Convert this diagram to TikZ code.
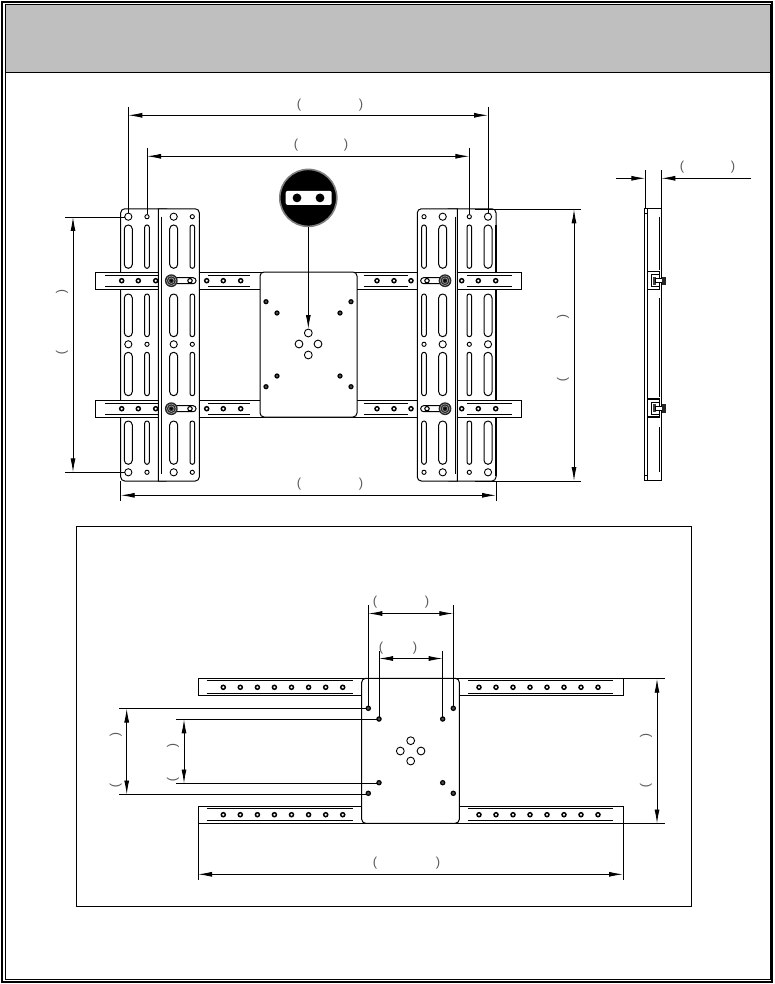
\documentclass[tikz,border=0pt]{standalone}
\usepackage{fontspec}
\setmainfont{Liberation Sans}
\usetikzlibrary{arrows.meta}
\tikzset{
  thin line/.style={line width=0.9pt,black},
  part/.style={line width=1pt,draw=black,fill=white},
  slotline/.style={line width=1pt,draw=black,fill=white},
  ring/.style={line width=0.9pt,draw=black,fill=white},
  barhole/.style={line width=1.5pt,draw=black,fill=white},
  platehole/.style={line width=1.2pt,draw=black,fill=black!70},
  dimline/.style={line width=0.9pt,black,{Latex[length=14pt,width=5pt]}-{Latex[length=14pt,width=5pt]}},
  leader/.style={line width=0.9pt,black,-{Latex[length=14pt,width=5pt]}},
  extline/.style={line width=0.9pt,black},
  paren/.style={font=\fontsize{13}{13}\selectfont,text=black!65,inner sep=0pt},
  parenv/.style={paren,rotate=-90},
}
% slot column of a vertical panel: #1 x, #2 width
\newcommand{\slotcol}[2]{%
  \foreach \ya/\yb in {225/268.3,294/336.7,352.3/395.7,421/464.3}{%
    \pgfmathsetlengthmacro{\sr}{#2/2-0.05}%
    \draw[slotline,rounded corners=\sr] ({#1-#2/2},\ya) rectangle ({#1+#2/2},\yb);}}
\newcommand{\holecol}[2]{%
  \foreach \yy in {216.7,344.3,472.3}{\draw[ring] (#1,\yy) circle[radius=#2];}}
% knob with slot: #1 knob x, #2 far slot end x, #3 hole x, #4 y
\newcommand{\knob}[4]{%
  \draw[slotline,rounded corners=2.9pt] (#1,#4-3) rectangle (#2,#4+3);
  \draw[line width=1.1pt,draw=black,fill=white] (#3,#4) circle[radius=2.2];
  \fill[black!85] (#1,#4) circle[radius=6.4];
  \draw[white!70!black,line width=0.5pt] (#1,#4) circle[radius=4.8];
  \draw[white!70!black,line width=0.5pt] (#1,#4) circle[radius=2.8];
  \fill[black] (#1,#4) circle[radius=1.2];}
\begin{document}
\begin{tikzpicture}[x=1pt,y=-1pt]
\useasboundingbox (0,0) rectangle (774,984);
\fill[white] (0,0) rectangle (774,984);
% frame and header
\draw[line width=2pt] (2,2.2) rectangle (772,982);
\fill[black!25] (5,4.7) rectangle (770,72.5);
\draw[line width=1pt] (5,4.7) rectangle (770,979.5);
\draw[line width=1pt] (5,72.5) -- (770,72.5);

% ===== main view: outer sub-panels (behind bars)
\draw[part,rounded corners=4pt] (120.7,208.8) rectangle (170,481);
\slotcol{128.3}{8}\slotcol{147}{4.6}
\holecol{128.3}{3.6}\holecol{147}{2.1}
\draw[part,rounded corners=4pt] (445,208.8) rectangle (496,481);
\draw[line width=1.5pt] (496,225) -- (496,476);
\slotcol{469.3}{4.6}\slotcol{488}{8}
\holecol{469.3}{2.1}\holecol{488}{3.6}

% bars
\foreach \ya/\yb/\yi/\yj/\yh in {272/289.3/275.3/286.7/280.7, 400.3/417.3/403.6/414.7/408.7}{
  \draw[part] (95.3,\ya) rectangle (521.7,\yb);
  \draw[thin line] (105,\yi) -- (158,\yi) (105,\yj) -- (158,\yj);
  \draw[thin line] (208,\yi) -- (250,\yi) (208,\yj) -- (250,\yj);
  \draw[thin line] (364,\yi) -- (408,\yi) (364,\yj) -- (408,\yj);
  \draw[thin line] (466.7,\yi) -- (511.7,\yi) (466.7,\yj) -- (511.7,\yj);
  \foreach \xx in {121.7,138.3,155.7,206.7,223.3,240.7,377,394,411,461.7,478.3,495.7}
    \draw[barhole] (\xx,\yh) circle[radius=2];
}

% inner sub-panels (over bars)
\draw[part] (158.3,208.8) [rounded corners=4pt] -- (199.3,208.8) -- (199.3,481) [sharp corners] -- (158.3,481) -- cycle;
\draw[thin line] (161.7,216.7) -- (161.7,474);
\slotcol{173.7}{8}\slotcol{192.3}{4.6}
\holecol{173.7}{3.6}\holecol{192.3}{2.1}
\draw[part] (457.3,208.8) -- (421.3,208.8) [rounded corners=4pt] -- (417.3,208.8) -- (417.3,481) [sharp corners] -- (457.3,481) -- cycle;
\draw[thin line] (455.3,216.7) -- (455.3,474);
\slotcol{424}{4.6}\slotcol{442.7}{8}
\holecol{424}{2.1}\holecol{442.7}{3.6}
\knob{171.3}{196}{190}{280.7}
\knob{171.3}{196}{190}{408.7}
\knob{445}{420.7}{427}{280.7}
\knob{445}{420.7}{427}{408.7}

% centre plate
\draw[part,rounded corners=4pt] (260,272) rectangle (357,417);
\foreach \xx/\yy in {266/301.7,277/313,340/313,351/301.7,266/386.7,277/376,340/376,351/386.7}
  \draw[platehole] (\xx,\yy) circle[radius=2];
\foreach \xx/\yy in {308.3/333,299/344,318/344,308.3/355}
  \draw[ring] (\xx,\yy) circle[radius=3.9];

% icon
\node[circle,minimum size=57pt,inner sep=0pt,fill=black,draw=black!50,line width=1.6pt] (icon) at (308.3,197.9) {};
\fill[white,rounded corners=2pt] (285.7,190.9) rectangle (331.7,204.9);
\fill[black] (297,197.9) circle[radius=4.4] (320,197.9) circle[radius=4.4];
\coordinate (iconhole) at (308.3,329);
\draw[leader] (icon.south) -- (iconhole);

% dimensions, main view
\coordinate (ta) at (128.3,115.3); \coordinate (tb) at (488,115.3);
\coordinate (ua) at (147,156.3);   \coordinate (ub) at (469.3,156.3);
\coordinate (ba) at (120.7,495.3); \coordinate (bb) at (496,495.3);
\coordinate (la) at (73,217);  \coordinate (lb) at (73,472.3);
\coordinate (ra) at (574,209.3);   \coordinate (rb) at (574,481);
\draw[extline] (128.3,107) -- (128.3,213) (488,107) -- (488,213);
\draw[extline] (147,148) -- (147,214.5) (469.3,148) -- (469.3,214.5);
\draw[extline] (120.7,481) -- (120.7,501) (496,481) -- (496,501);
\draw[extline] (65,217) -- (124.7,217) (65,472.3) -- (124.7,472.3);
\draw[extline] (475,209.3) -- (581,209.3) (475,481) -- (581,481);
\draw[dimline] (ta) -- (tb);
\draw[dimline] (ua) -- (ub);
\draw[dimline] (ba) -- (bb);
\draw[dimline] (la) -- (lb);
\draw[dimline] (ra) -- (rb);
\node[paren] (p1) at (299,105) {(}; \node[paren] (p2) at (361,105) {)};
\node[paren] (p3) at (296,145) {(}; \node[paren] (p4) at (346,145) {)};
\node[paren] (p5) at (299,484) {(}; \node[paren] (p6) at (361,484) {)};
\node[parenv] (p7) at (62,292) {(}; \node[parenv] (p8) at (62,353) {)};
\node[parenv] (p9) at (563,317) {(}; \node[parenv] (p10) at (563,380) {)};

% ===== side view
\draw[part] (644.3,208.5) rectangle (661.3,480.3);
\draw[thin line] (647.3,208.5) -- (647.3,480.3);
\draw[thin line] (644.3,213) -- (647.3,213) (644.3,475.5) -- (647.3,475.5);
\draw[thin line] (659.7,217) -- (659.7,270) (659.7,298) -- (659.7,397) (659.7,427) -- (659.7,472);
\foreach \ya/\yc in {271.7/280.7,399/408.3}{
  \draw[line width=1.2pt,fill=white] (659.7,\ya) -- (647.7,\ya) -- (647.7,\ya+18) -- (659.7,\ya+18) -- cycle;
  \draw[line width=1pt] (659.7,\yc-6) -- (651.5,\yc-6) -- (651.5,\yc+6) -- (659.7,\yc+6);
  \fill[black!75] (652.5,\yc-4) rectangle (655.5,\yc+4);
  \draw[line width=0.9pt,fill=white] (655.5,\yc-2.2) rectangle (662,\yc+2.2);
  \fill[black!85] (662,\yc-4.2) rectangle (665.7,\yc+4.2);
}
\coordinate (sa) at (645.3,178.3); \coordinate (sb) at (661.3,178.3);
\coordinate (sc) at (616,178.3);   \coordinate (sd) at (751,178.3);
\draw[extline] (645.3,170) -- (645.3,208) (661.3,170) -- (661.3,208);
\draw[leader] (sc) -- (sa);
\draw[leader] (sd) -- (sb);
\node[paren] (p11) at (682,167) {(}; \node[paren] (p12) at (733,167) {)};

% ===== lower box
\draw[line width=0.9pt] (76.6,526.8) rectangle (691.6,906.8);
\foreach \ya/\yb/\yi/\yj/\yh in {678.3/695.7/680.9/693.3/687.3, 806/823.3/808.7/820.7/814.7}{
  \draw[part] (198,\ya) rectangle (623,\yb);
  \draw[thin line] (206.7,\yi) -- (353.3,\yi) (206.7,\yj) -- (353.3,\yj);
  \draw[thin line] (468,\yi) -- (613,\yi) (468,\yj) -- (613,\yj);
  \foreach \xx in {223.3,240.3,257.4,274.4,291.5,308.6,325.7,342.7,479,496,513,530,547,564,581,598}
    \draw[barhole] (\xx,\yh) circle[radius=2];
}
\draw[part,rounded corners=4pt] (361.7,678.3) rectangle (459.3,823.3);
\draw[line width=1.5pt] (361.7,683) -- (361.7,819);
\foreach \xx/\yy in {368.3/708.3,379/719,442.7/719,453.3/708.3,379/782.7,442.7/782.7,368.3/793.3,453.3/793.3}
  \draw[platehole] (\xx,\yy) circle[radius=2.1];
\foreach \xx/\yy in {410.7/740.7,400.3/751,421/751,410.7/761}
  \draw[ring] (\xx,\yy) circle[radius=3.9];

\coordinate (ca) at (368.3,613.5); \coordinate (cb) at (453.3,613.5);
\coordinate (da) at (379,658.5);   \coordinate (db) at (442.7,658.5);
\coordinate (ea) at (126.7,708.5); \coordinate (eb) at (126.7,794.5);
\coordinate (fa) at (184,719.3);   \coordinate (fb) at (184,783.5);
\coordinate (ga) at (657,678.7);   \coordinate (gb) at (657,823.5);
\coordinate (ha) at (198,874.3);     \coordinate (hb) at (623,874.3);
\draw[extline] (368.3,605) -- (368.3,706) (453.3,605) -- (453.3,706);
\draw[extline] (379,651) -- (379,717) (442.7,651) -- (442.7,717);
\draw[extline] (119,708.5) -- (366,708.5) (119,794.5) -- (366,794.5);
\draw[extline] (176,719.3) -- (377,719.3) (176,783.5) -- (377,783.5);
\draw[extline] (623,678.7) -- (665,678.7) (623,823.5) -- (665,823.5);
\draw[extline] (198,823.3) -- (198,880) (623,823.3) -- (623,880);
\draw[dimline] (ca) -- (cb);
\draw[dimline] (da) -- (db);
\draw[dimline] (ea) -- (eb);
\draw[dimline] (fa) -- (fb);
\draw[dimline] (ga) -- (gb);
\draw[dimline] (ha) -- (hb);
\node[paren] (q1) at (375,602) {(}; \node[paren] (q2) at (427,602) {)};
\node[paren] (q3) at (381,648) {(}; \node[paren] (q4) at (415,648) {)};
\node[parenv] (q5) at (115.7,735) {(}; \node[parenv] (q6) at (115.7,786) {)};
\node[parenv] (q7) at (173,746) {(}; \node[parenv] (q8) at (173,780) {)};
\node[parenv] (q9) at (646,736) {(}; \node[parenv] (q10) at (646,786) {)};
\node[paren] (q11) at (375,863) {(}; \node[paren] (q12) at (438,863) {)};
\end{tikzpicture}
\end{document}
